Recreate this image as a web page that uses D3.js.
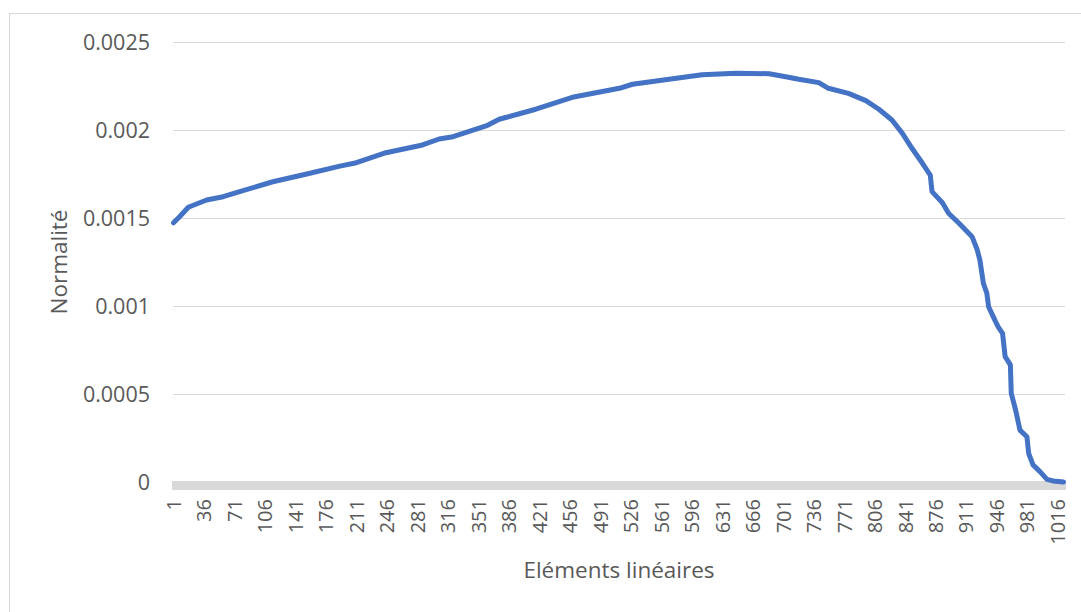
<!DOCTYPE html>
<html>
<head>
<meta charset="utf-8">
<script src="https://cdn.jsdelivr.net/npm/d3@7"></script>
<style>
  html, body { margin: 0; padding: 0; background: #ffffff; }
  svg { display: block; }
  text { font-family: "Open Sans", "Noto Sans", sans-serif; fill: #595959; }
</style>
</head>
<body>
<svg id="chart" width="1081" height="612"></svg>
<script>
// Element index (x) and normalité value (y)
const elements = [1, 8, 18, 39, 58, 77, 115, 154, 192, 211, 245, 287, 306, 322, 360, 375, 417, 459, 513, 528, 570, 608, 647, 685, 704, 719, 742, 753, 776, 796, 811, 826, 838, 849, 861, 870, 872, 884, 891, 903, 918, 924, 927, 931, 935, 937, 945, 948, 953, 956, 962, 963, 968, 973, 981, 983, 988, 996, 1004, 1011, 1023];
const normalite = [0.001473, 0.001507, 0.001561, 0.001602, 0.001621, 0.001650, 0.001706, 0.001750, 0.001795, 0.001814, 0.001871, 0.001915, 0.001949, 0.001962, 0.002023, 0.002061, 0.002118, 0.002186, 0.002237, 0.002260, 0.002288, 0.002314, 0.002322, 0.002320, 0.002303, 0.002288, 0.002269, 0.002237, 0.002208, 0.002167, 0.002118, 0.002057, 0.001981, 0.001896, 0.001811, 0.001744, 0.001650, 0.001587, 0.001527, 0.001470, 0.001394, 0.001318, 0.001261, 0.001129, 0.001072, 0.000996, 0.000911, 0.000882, 0.000845, 0.000712, 0.000665, 0.000504, 0.000409, 0.000295, 0.000257, 0.000163, 0.000097, 0.000059, 0.000015, 0.000006, 0.0];
const xTickLabels = [1, 36, 71, 106, 141, 176, 211, 246, 281, 316, 351, 386, 421, 456, 491, 526, 561, 596, 631, 666, 701, 736, 771, 806, 841, 876, 911, 946, 981, 1016];
const yTickValues = [0, 0.0005, 0.001, 0.0015, 0.002, 0.0025];
const yTickLabels = ["0", "0.0005", "0.001", "0.0015", "0.002", "0.0025"];
const xTitle = "Eléments linéaires";
const yTitle = "Normalité";

const svg = d3.select("#chart");
const plot = { left: 173.5, right: 1065, top: 42, bottom: 482 };

// outer chart border
svg.append("rect")
  .attr("x", 9.5).attr("y", 13.5)
  .attr("width", 1100).attr("height", 700)
  .attr("fill", "none").attr("stroke", "#d9d9d9").attr("stroke-width", 1);

const x = d3.scaleLinear().domain([1, 1023]).range([plot.left, plot.right - 1.5]);
const y = d3.scaleLinear().domain([0, 0.0025]).range([plot.bottom, plot.top]);

// gridlines
svg.append("g").selectAll("line")
  .data(yTickValues.slice(1))
  .join("line")
  .attr("x1", 173).attr("x2", plot.right)
  .attr("y1", d => Math.round(y(d)) + 0.5).attr("y2", d => Math.round(y(d)) + 0.5)
  .attr("stroke", "#d9d9d9").attr("stroke-width", 1);

// y tick labels
const yAxis = d3.axisLeft(y).tickValues(yTickValues)
  .tickFormat((d, i) => yTickLabels[i]).tickSize(0).tickPadding(0);
const gy = svg.append("g").attr("transform", "translate(150,0)").call(yAxis);
gy.select(".domain").remove();
gy.selectAll("text")
  .attr("font-family", "'Open Sans', sans-serif")
  .attr("font-size", 21.5).attr("fill", "#595959").attr("dy", "0.35em");

// thick x axis band
svg.append("rect")
  .attr("x", 172).attr("y", 481)
  .attr("width", 1066 - 172).attr("height", 9)
  .attr("fill", "#d9d9d9");

// x tick labels (rotated)
const xAxis = d3.axisBottom(x).tickValues(xTickLabels)
  .tickFormat(d3.format("d")).tickSize(0).tickPadding(0);
const gx = svg.append("g").attr("transform", "translate(0,499)").call(xAxis);
gx.select(".domain").remove();
gx.selectAll("text")
  .attr("font-family", "'Open Sans', sans-serif")
  .attr("font-size", 20).attr("fill", "#595959")
  .attr("text-anchor", "end")
  .attr("transform", "rotate(-90)")
  .attr("x", 0).attr("y", 0).attr("dy", "0.35em");

// line
const line = d3.line()
  .x((d, i) => x(elements[i]))
  .y(d => y(d))
  .curve(d3.curveLinear);
svg.append("path")
  .datum(normalite)
  .attr("d", line)
  .attr("fill", "none")
  .attr("stroke", "#4472c4")
  .attr("stroke-width", 5)
  .attr("stroke-linejoin", "round")
  .attr("stroke-linecap", "round");

// axis titles
svg.append("text")
  .attr("x", 619).attr("y", 572)
  .attr("text-anchor", "middle").attr("dominant-baseline", "middle")
  .attr("font-size", 22.5)
  .text(xTitle);
svg.append("text")
  .attr("transform", "translate(61,262) rotate(-90)")
  .attr("text-anchor", "middle").attr("dominant-baseline", "middle")
  .attr("font-size", 22.5)
  .text(yTitle);
</script>
</body>
</html>
